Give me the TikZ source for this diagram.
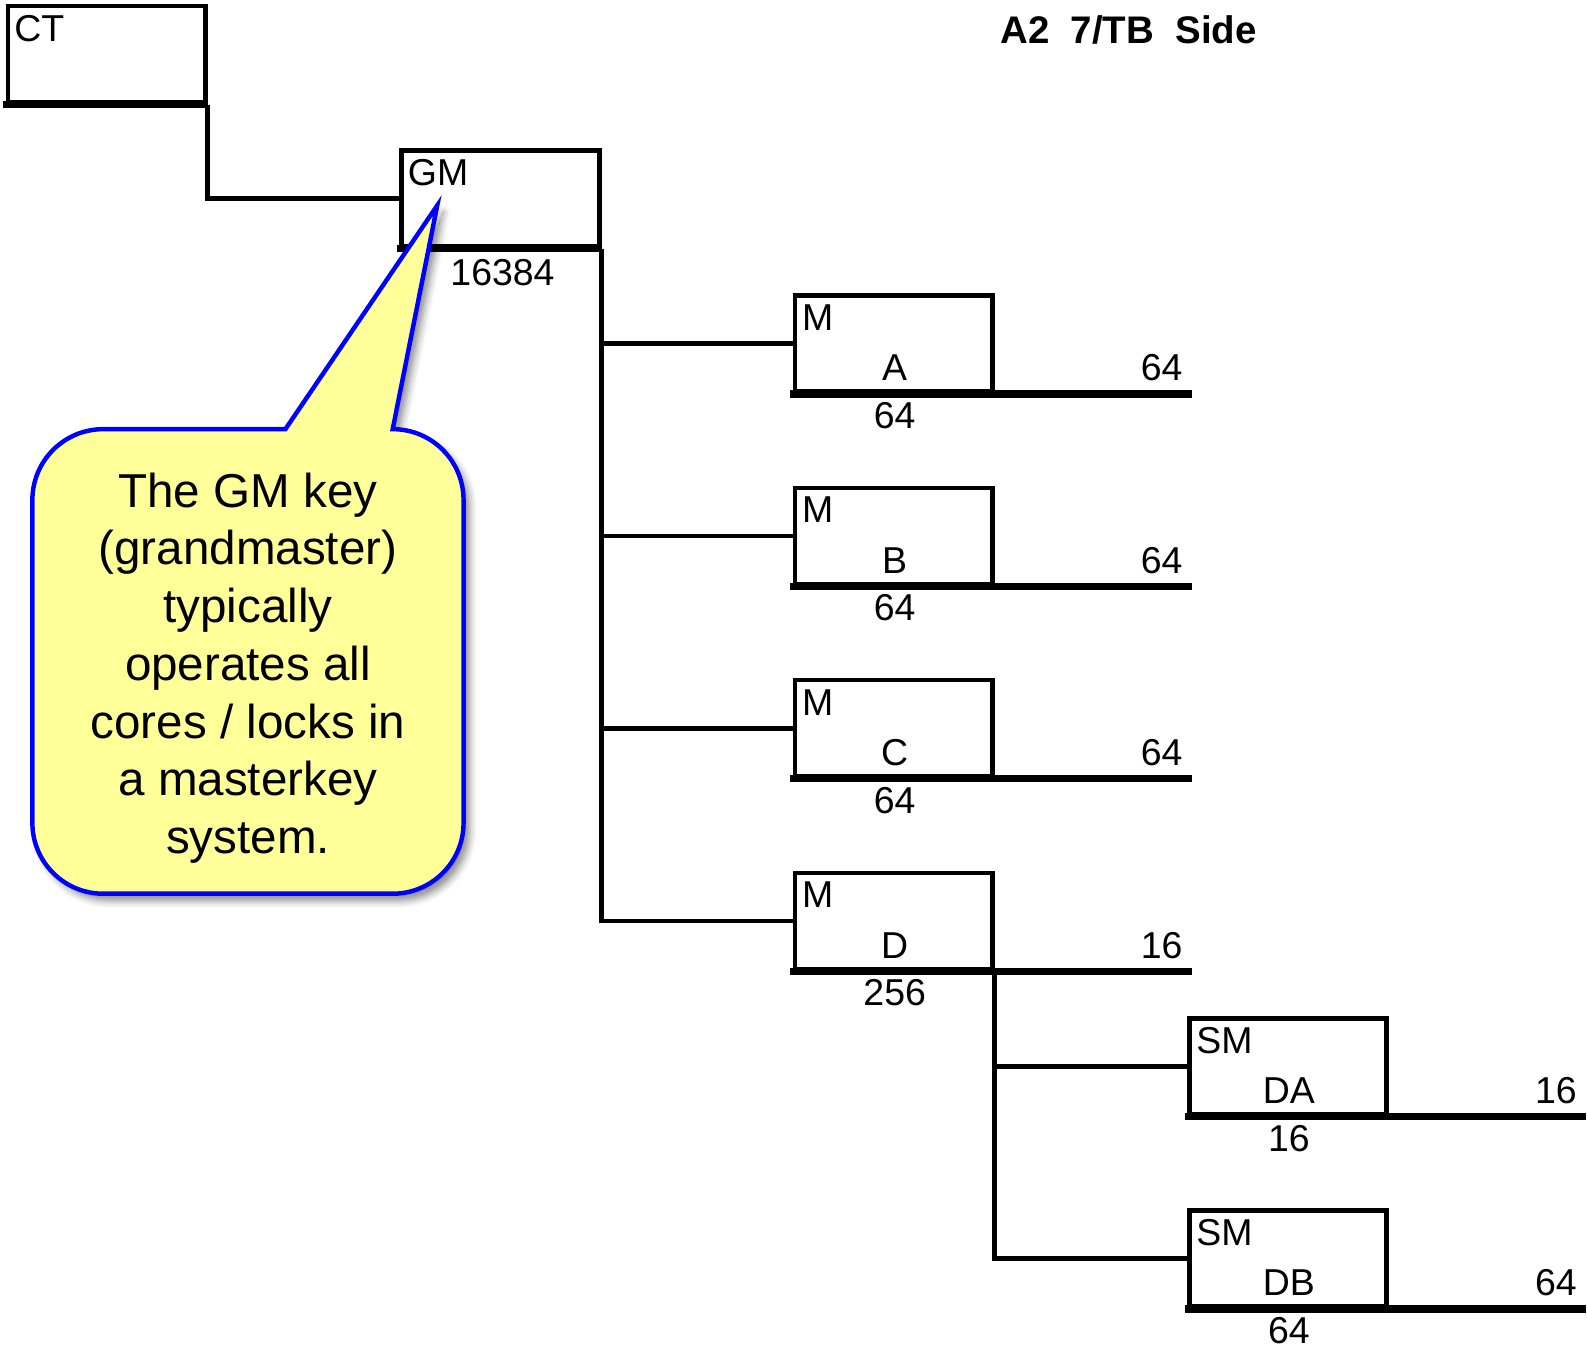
\documentclass[tikz,border=0pt]{standalone}
\usepackage{fontspec}
\setmainfont{Liberation Sans}
\usetikzlibrary{calc,shadows.blur}
\definecolor{calloutfill}{HTML}{FFFF99}
\definecolor{calloutline}{HTML}{0000FF}
\begin{document}
\begin{tikzpicture}[x=0.5pt,y=-0.5pt,
  keybox/.style={draw, line width=2.3pt, minimum width=97.5pt, minimum height=47.5pt, inner sep=0pt},
  wire/.style={line width=2.3pt},
  thickline/.style={line width=3.5pt},
  lbl/.style={font=\fontsize{18.5}{22}\selectfont, inner sep=0pt},
  titlelbl/.style={font=\fontsize{19}{23}\selectfont\bfseries, inner sep=0pt},
  callout/.style={fill=calloutfill, draw=calloutline, line width=2.2pt, line join=miter,
    blur shadow={shadow xshift=3pt, shadow yshift=-3.5pt, shadow blur radius=3.5pt, shadow opacity=45}},
  notetext/.style={font=\fontsize{23.5}{28.5}\selectfont, align=center, inner sep=0pt}
]
\useasboundingbox (0,0) rectangle (1568,1330);

% title
\node[titlelbl, anchor=base west] (title) at (988,43) {A2\ \ 7/TB\ \ Side};

% CT box
\node[keybox] (ct) at (105.5,53.5) {};
\draw[thickline] ($(ct.south west)+(-2.3,0)$) -- (ct.south east);
\node[lbl, anchor=north west] (ct-t) at ($(ct.north west)+(8,11)$) {CT};

% GM box
\node[keybox] (gm) at (494.5,196) {};
\draw[thickline] ($(gm.south west)+(-2.3,0)$) -- (gm.south east);
\node[lbl, anchor=north west] (gm-t) at ($(gm.north west)+(8,11)$) {GM};
\node[lbl, anchor=base] (gm-c) at ($(gm.south)+(2,36)$) {16384};

\draw[wire] (ct.south east) |- (gm.west);

% M boxes
\foreach \n/\yy/\l/\b/\r in {ma/339.5/A/64/64, mb/529.5/B/64/64, mc/719.5/C/64/64, md/910/D/256/16} {
  \node[keybox] (\n) at (883,\yy) {};
  \coordinate (\n-end) at ($(\n.south east)+(195,0)$);
  \draw[thickline] ($(\n.south west)+(-2.3,0)$) -- (\n-end);
  \node[lbl, anchor=north west] (\n-t) at ($(\n.north west)+(9,11)$) {M};
  \node[lbl, anchor=base] (\n-l) at ($(\n.south)+(1,-13)$) {\l};
  \node[lbl, anchor=base] (\n-c) at ($(\n.south)+(1,34)$) {\b};
  \node[lbl, anchor=base east] (\n-r) at ($(\n-end)+(-9,-13)$) {\r};
}
\foreach \n in {ma,mb,mc,md} {
  \draw[wire] (gm.south east) |- (\n.west);
}

% SM boxes
\foreach \n/\yy/\l/\b/\r in {sda/1053.5/DA/16/16, sdb/1243.5/DB/64/64} {
  \node[keybox] (\n) at (1272.5,\yy) {};
  \coordinate (\n-end) at ($(\n.south east)+(195,0)$);
  \draw[thickline] ($(\n.south west)+(-2.3,0)$) -- (\n-end);
  \node[lbl, anchor=north west] (\n-t) at ($(\n.north west)+(9,11)$) {SM};
  \node[lbl, anchor=base] (\n-l) at ($(\n.south)+(1,-13)$) {\l};
  \node[lbl, anchor=base] (\n-c) at ($(\n.south)+(1,34)$) {\b};
  \node[lbl, anchor=base east] (\n-r) at ($(\n-end)+(-9,-13)$) {\r};
}
\foreach \n in {sda,sdb} {
  \draw[wire] (md.south east) |- (\n.west);
}

% callout
\path[callout] (282,424) -- (432,203) -- (388,424)
  .. controls (426.7,424) and (458,455.3) .. (458,494)
  -- (458,813)
  .. controls (458,851.7) and (426.7,883) .. (388,883)
  -- (102,883)
  .. controls (63.3,883) and (32,851.7) .. (32,813)
  -- (32,494)
  .. controls (32,455.3) and (63.3,424) .. (102,424)
  -- cycle;
\node[notetext] (note) at (245,660) {The GM key\\(grandmaster)\\typically\\operates all\\cores / locks in\\a masterkey\\system.};
\end{tikzpicture}
\end{document}
